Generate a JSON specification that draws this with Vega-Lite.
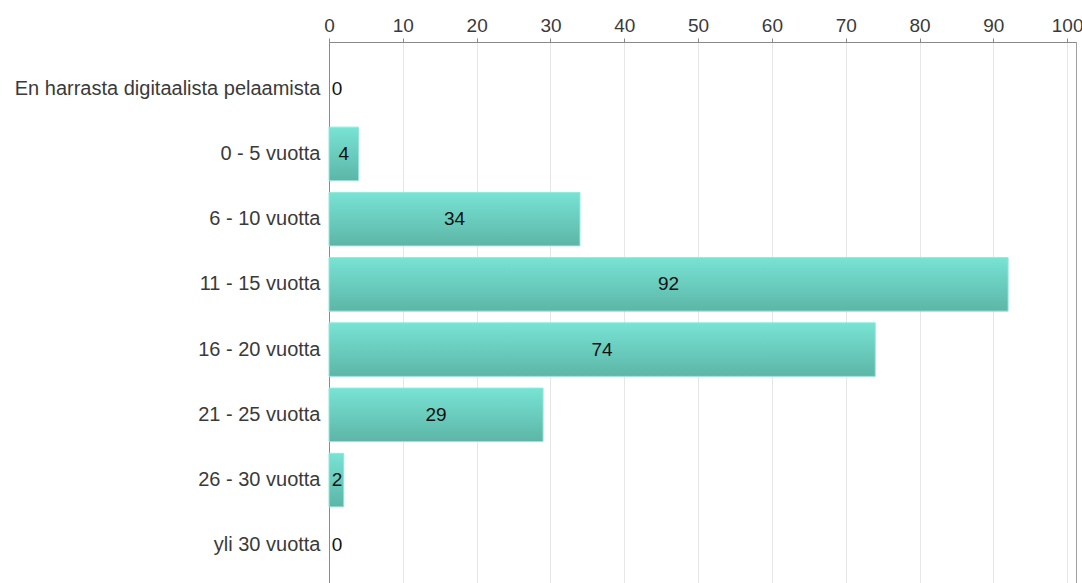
{
  "$schema": "https://vega.github.io/schema/vega-lite/v6.json",
  "autosize": {"type": "none"},
  "padding": {"left": 329, "top": 42, "right": 6, "bottom": 0},
  "width": 747,
  "height": 550,
  "background": "white",
  "config": {
    "view": {"stroke": "#a0a0a0", "strokeWidth": 1},
    "font": "Liberation Sans"
  },
  "data": {
    "values": [
      {"category": "En harrasta digitaalista pelaamista", "value": 0},
      {"category": "0 - 5 vuotta", "value": 4},
      {"category": "6 - 10 vuotta", "value": 34},
      {"category": "11 - 15 vuotta", "value": 92},
      {"category": "16 - 20 vuotta", "value": 74},
      {"category": "21 - 25 vuotta", "value": 29},
      {"category": "26 - 30 vuotta", "value": 2},
      {"category": "yli 30 vuotta", "value": 0}
    ]
  },
  "encoding": {
    "y": {
      "field": "category",
      "type": "nominal",
      "sort": ["En harrasta digitaalista pelaamista", "0 - 5 vuotta", "6 - 10 vuotta", "11 - 15 vuotta", "16 - 20 vuotta", "21 - 25 vuotta", "26 - 30 vuotta", "yli 30 vuotta"],
      "scale": {"paddingInner": 0.18, "paddingOuter": 0.305},
      "axis": {
        "title": null,
        "ticks": false,
        "labelFontSize": 20,
        "labelColor": "#3a3a3a",
        "labelPadding": 9,
        "domainColor": "#8a8a8a",
        "labelLimit": 400
      }
    }
  },
  "layer": [
    {
      "transform": [{"filter": "datum.value > 0"}],
      "mark": {
        "type": "bar",
        "stroke": "#93e6d9",
        "strokeWidth": 1,
        "color": {
          "gradient": "linear",
          "x1": 0, "y1": 0, "x2": 0, "y2": 1,
          "stops": [
            {"offset": 0, "color": "#78e3d4"},
            {"offset": 1, "color": "#5cb6a7"}
          ]
        }
      },
      "encoding": {
        "x": {
          "field": "value",
          "type": "quantitative",
          "scale": {"domain": [0, 101.2], "nice": false},
          "axis": {
            "orient": "top",
            "title": null,
            "values": [0, 10, 20, 30, 40, 50, 60, 70, 80, 90, 100],
            "tickSize": 4,
            "tickColor": "#8a8a8a",
            "domainColor": "#8a8a8a",
            "labelFontSize": 19,
            "labelColor": "#3a3a3a",
            "labelPadding": 3,
            "grid": true,
            "gridColor": "#e6e6e6",
            "labelFlush": false
          }
        }
      }
    },
    {
      "transform": [{"calculate": "max(datum.value / 2, 1.1)", "as": "labelPos"}],
      "mark": {"type": "text", "align": "center", "baseline": "middle", "fontSize": 19, "color": "#111111"},
      "encoding": {
        "x": {"field": "labelPos", "type": "quantitative"},
        "text": {"field": "value", "type": "quantitative"}
      }
    }
  ]
}
